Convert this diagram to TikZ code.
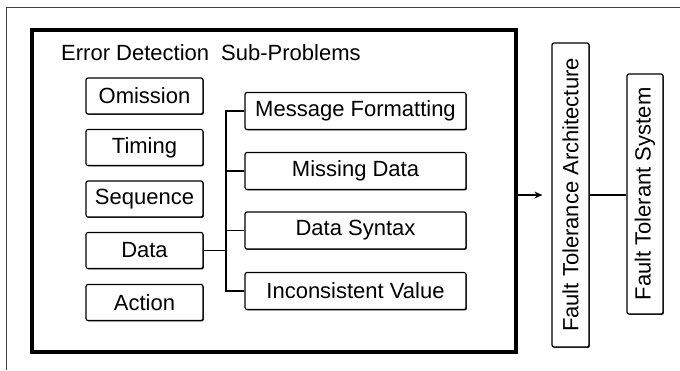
\documentclass[tikz,border=0pt]{standalone}
\usepackage{fontspec}
\setmainfont{Liberation Sans}
\usetikzlibrary{arrows.meta,shadows}

\tikzset{
  box/.style={draw, line width=1.2pt, rounded corners=2pt, fill=white,
    inner sep=0pt, align=center,
    font=\fontsize{22}{26}\selectfont,
    drop shadow={shadow xshift=0.9pt, shadow yshift=-0.9pt, fill=black, opacity=0.85}},
  leftbox/.style={box, minimum width=117pt, minimum height=36pt},
  rightbox/.style={box, minimum width=221pt, minimum height=37pt},
  vbox/.style={box, rotate=90},
  link/.style={line width=1.4pt},
}

\begin{document}
\begin{tikzpicture}[x=1pt, y=-1pt]
  \useasboundingbox (0,0) rectangle (680,370);

  % partial outer frame
  \draw[black!75, line width=1pt] (6,370) -- (6,7) -- (680,7);

  % error detection container
  \node[draw, line width=3.5pt, minimum width=484pt, minimum height=322pt,
        inner sep=0pt] (ed) at (274,191) {};
  \node[anchor=base west, inner sep=0pt, font=\fontsize{22}{26}\selectfont]
        (title) at (61,60) {Error Detection\hspace{6pt} Sub-Problems};

  % sub-problem categories
  \node[leftbox] (om)  at (144.5,96)    {Omission};
  \node[leftbox] (tim) at (144.5,147.5) {Timing};
  \node[leftbox] (seq) at (144.5,199)   {Sequence};
  \node[leftbox] (dat) at (144.5,250.5) {Data};
  \node[leftbox] (act) at (144.5,302.5) {Action};

  % data sub-problems
  \node[rightbox] (mf) at (355.5,111)   {Message Formatting};
  \node[rightbox] (md) at (355.5,171)   {Missing Data};
  \node[rightbox] (ds) at (355.5,230.5) {Data Syntax};
  \node[rightbox] (iv) at (355.5,291)   {Inconsistent Value};

  % bus joining data to its sub-problems
  \coordinate (bus) at (226,0);
  \draw[link] (mf.west) -- (mf.west -| bus) -- (iv.west -| bus) -- (iv.west);
  \draw[link] (md.west) -- (md.west -| bus);
  \draw[link] (ds.west) -- (ds.west -| bus);
  \draw[link] (dat.east) -- (dat.east -| bus);

  % architecture and system (rotated: north is the left side, south the right)
  \node[vbox, minimum width=304pt, minimum height=37pt] (fta) at (570.5,195)
        {Fault Tolerance Architecture};
  \node[vbox, minimum width=240pt, minimum height=36pt] (fts) at (645,194)
        {Fault Tolerant System};

  \draw[link, -{Stealth[length=8pt, width=7pt]}, shorten >=9pt]
        (ed.east |- fta.north) -- (fta.north);
  \draw[link] (fta.south) -- (fts.north |- fta.south);
\end{tikzpicture}
\end{document}
